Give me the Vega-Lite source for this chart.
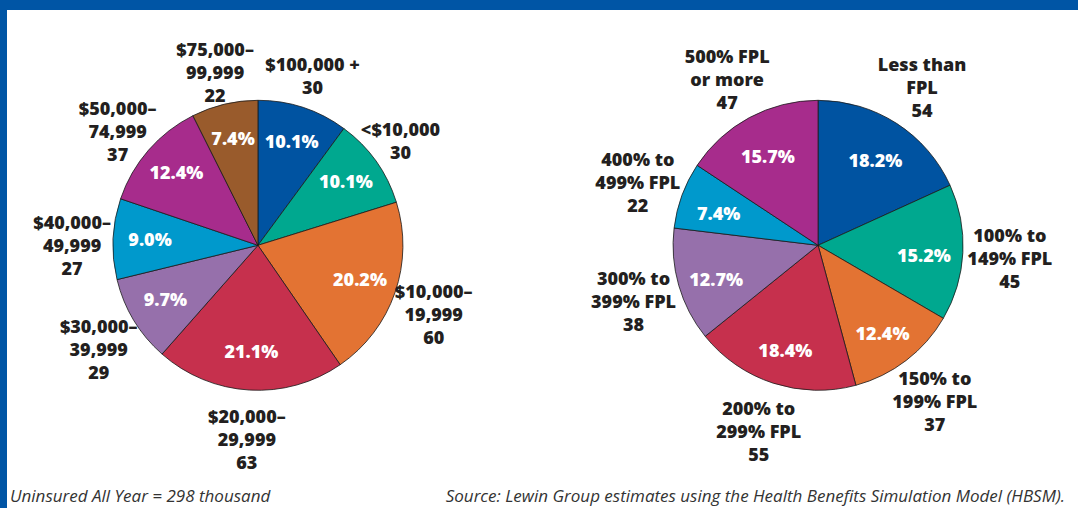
{
  "$schema": "https://vega.github.io/schema/vega-lite/v6.json",
  "width": 1078,
  "height": 508,
  "autosize": {"type": "fit", "contains": "padding"},
  "padding": {"left": 7, "top": 10, "right": 0, "bottom": 0},
  "background": "#0055a5",
  "view": {"fill": "white", "stroke": null},
  "config": {
    "view": {"fill": "white", "stroke": null},
    "style": {"cell": {"fill": "white", "stroke": null}},
    "text": {"font": "Open Sans"}
  },
  "datasets": {
    "income": [
      {"o": 1, "group": "$100,000 +", "share": 0.101, "label": "$100,000 +\n30"},
      {"o": 2, "group": "<$10,000", "share": 0.101, "label": "<$10,000\n30"},
      {"o": 3, "group": "$10,000–19,999", "share": 0.202, "label": "$10,000–\n19,999\n60"},
      {"o": 4, "group": "$20,000–29,999", "share": 0.211, "label": "$20,000–\n29,999\n63"},
      {"o": 5, "group": "$30,000–39,999", "share": 0.097, "label": "$30,000–\n39,999\n29"},
      {"o": 6, "group": "$40,000–49,999", "share": 0.090, "label": "$40,000–\n49,999\n27"},
      {"o": 7, "group": "$50,000–74,999", "share": 0.124, "label": "$50,000–\n74,999\n37"},
      {"o": 8, "group": "$75,000–99,999", "share": 0.074, "label": "$75,000–\n99,999\n22"}
    ],
    "fpl": [
      {"o": 1, "group": "Less than FPL", "share": 0.182, "label": "Less than\nFPL\n54"},
      {"o": 2, "group": "100% to 149% FPL", "share": 0.152, "label": "100% to\n149% FPL\n45"},
      {"o": 3, "group": "150% to 199% FPL", "share": 0.124, "label": "150% to\n199% FPL\n37"},
      {"o": 4, "group": "200% to 299% FPL", "share": 0.184, "label": "200% to\n299% FPL\n55"},
      {"o": 5, "group": "300% to 399% FPL", "share": 0.127, "label": "300% to\n399% FPL\n38"},
      {"o": 6, "group": "400% to 499% FPL", "share": 0.074, "label": "400%  to\n499% FPL\n22"},
      {"o": 7, "group": "500% FPL or more", "share": 0.157, "label": "500%  FPL\nor more\n47"}
    ],
    "notes": [
      {"side": "left", "note": "Uninsured All Year = 298 thousand"},
      {"side": "right", "note": "Source:  Lewin Group estimates using the Health Benefits Simulation Model (HBSM)."}
    ]
  },
  "layer": [
    {
      "data": {"name": "income"},
      "encoding": {
        "x": {"datum": "income", "type": "nominal", "axis": null,
              "scale": {"type": "band", "domain": ["income", "fpl"], "paddingInner": 0.5, "paddingOuter": 0.206, "align": 0.4805}},
        "y": {"datum": "pie", "type": "nominal", "axis": null,
              "scale": {"type": "band", "domain": ["pie"], "paddingInner": 0, "paddingOuter": 0.5, "align": 0.445}},
        "theta": {"field": "share", "type": "quantitative", "stack": true},
        "order": {"field": "o", "type": "quantitative"}
      },
      "layer": [
        {
          "mark": {"type": "arc", "outerRadius": 145, "stroke": "#1a1a1a", "strokeWidth": 0.8},
          "encoding": {
            "color": {"field": "group", "type": "nominal", "legend": null,
              "scale": {
                "domain": ["$100,000 +", "<$10,000", "$10,000–19,999", "$20,000–29,999", "$30,000–39,999", "$40,000–49,999", "$50,000–74,999", "$75,000–99,999",
                           "Less than FPL", "100% to 149% FPL", "150% to 199% FPL", "200% to 299% FPL", "300% to 399% FPL", "400% to 499% FPL", "500% FPL or more"],
                "range": ["#0053a1", "#00a88f", "#e37333", "#c6304d", "#9670ab", "#0099cc", "#a72c8c", "#995b2c",
                          "#0053a1", "#00a88f", "#e37333", "#c6304d", "#9670ab", "#0099cc", "#a72c8c"]
              }}
          }
        },
        {
          "mark": {"type": "text", "radius": 108, "fontSize": 18, "fontWeight": 800, "fill": "white", "baseline": "middle", "align": "center"},
          "encoding": {"text": {"field": "share", "type": "quantitative", "format": ".1%"}}
        },
        {
          "mark": {"type": "text", "radius": 186, "dy": -13, "fontSize": 18, "fontWeight": 800, "fill": "#231f20", "baseline": "middle", "align": "center", "lineBreak": "\n", "lineHeight": 23},
          "encoding": {"text": {"condition": {"test": "indexof(datum.label, '\\n') === lastindexof(datum.label, '\\n')", "value": ""}, "field": "label", "type": "nominal"}}
        },
        {
          "mark": {"type": "text", "radius": 175, "dy": -13, "fontSize": 18, "fontWeight": 800, "fill": "#231f20", "baseline": "middle", "align": "center", "lineBreak": "\n", "lineHeight": 23},
          "encoding": {"text": {"condition": {"test": "indexof(datum.label, '\\n') !== lastindexof(datum.label, '\\n')", "value": ""}, "field": "label", "type": "nominal"}}
        }
      ]
    },
    {
      "data": {"name": "fpl"},
      "encoding": {
        "x": {"datum": "fpl", "type": "nominal"},
        "y": {"datum": "pie", "type": "nominal"},
        "theta": {"field": "share", "type": "quantitative", "stack": true},
        "order": {"field": "o", "type": "quantitative"}
      },
      "layer": [
        {
          "mark": {"type": "arc", "outerRadius": 145, "stroke": "#1a1a1a", "strokeWidth": 0.8},
          "encoding": {"color": {"field": "group", "type": "nominal"}}
        },
        {
          "mark": {"type": "text", "radius": 106, "dy": 6, "fontSize": 18, "fontWeight": 800, "fill": "white", "baseline": "middle", "align": "center"},
          "encoding": {"text": {"field": "share", "type": "quantitative", "format": ".1%"}}
        },
        {
          "mark": {"type": "text", "radius": 192, "dy": -18, "fontSize": 18, "fontWeight": 800, "fill": "#231f20", "baseline": "middle", "align": "center", "lineBreak": "\n", "lineHeight": 23},
          "encoding": {"text": {"field": "label", "type": "nominal"}}
        }
      ]
    },
    {
      "data": {"name": "notes"},
      "transform": [{"filter": "datum.side === 'left'"}],
      "mark": {"type": "text", "x": 0, "y": "height", "dx": 3, "dy": -11, "align": "left", "baseline": "middle", "fontSize": 17, "fontStyle": "italic", "fill": "#333333"},
      "encoding": {"text": {"field": "note", "type": "nominal"}}
    },
    {
      "data": {"name": "notes"},
      "transform": [{"filter": "datum.side === 'right'"}],
      "mark": {"type": "text", "x": "width", "y": "height", "dx": -13, "dy": -11, "align": "right", "baseline": "middle", "fontSize": 17, "fontStyle": "italic", "fill": "#333333"},
      "encoding": {"text": {"field": "note", "type": "nominal"}}
    }
  ]
}
